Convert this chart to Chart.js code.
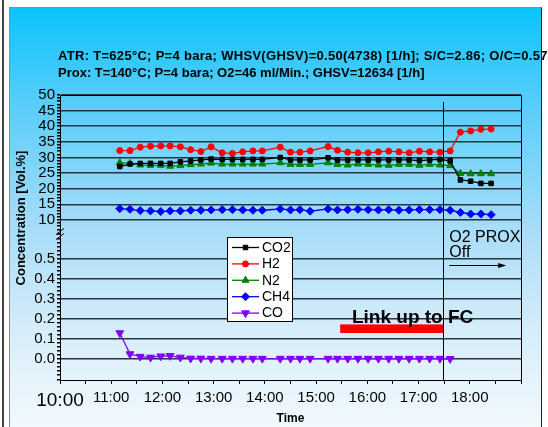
<!DOCTYPE html>
<html>
<head>
<meta charset="utf-8">
<script src="https://cdn.jsdelivr.net/npm/chart.js@4.4.1/dist/chart.umd.min.js"></script>
<style>
  body { margin: 0; background: #fff; }
  #wrap { width: 548px; height: 427px; }
</style>
</head>
<body>
<div id="wrap"><canvas id="gasChart" width="548" height="427"></canvas></div>
<script>
// sample times (hh:mm) and gas concentrations read from the run
const times = ['11:10', '11:22', '11:34', '11:46', '11:58', '12:09', '12:21', '12:33', '12:45', '12:57',
  '13:10', '13:22', '13:34', '13:46', '13:57', '14:18', '14:30', '14:41', '14:53', '15:14',
  '15:25', '15:37', '15:49', '16:01', '16:13', '16:25', '16:37', '16:49', '17:01', '17:13',
  '17:25', '17:37', '17:49', '18:01', '18:13', '18:25'];

const co2 = [27.1, 27.9, 28.1, 28.1, 28.1, 28.1, 28.6, 28.9, 29.2, 29.5, 29.4, 29.4, 29.4, 29.4, 29.4,
  30.0, 29.2, 29.2, 29.2, 29.9, 29.2, 29.2, 29.2, 29.2, 29.2, 29.2, 29.2, 29.2, 29.0, 29.2,
  29.4, 28.9, 22.8, 22.4, 21.7, 21.7];
const h2 = [32.2, 32.2, 33.3, 33.6, 33.7, 33.7, 33.4, 32.5, 31.9, 33.4, 31.5, 31.3, 31.8, 32.1, 32.1,
  33.3, 31.7, 31.7, 32.1, 33.5, 32.3, 31.7, 31.5, 31.5, 31.8, 32.0, 31.8, 31.5, 32.0, 31.8,
  31.7, 32.1, 38.1, 38.5, 39.0, 39.1];
const n2 = [28.3, 28.1, 27.6, 27.5, 27.5, 27.2, 27.4, 27.7, 27.9, 28.2, 27.9, 27.9, 27.9, 27.9, 27.9,
  28.3, 27.8, 27.8, 27.8, 28.3, 27.8, 27.6, 27.9, 27.8, 27.6, 27.5, 27.8, 27.8, 27.5, 27.8,
  27.6, 27.4, 24.9, 24.8, 24.8, 24.8];
const ch4 = [13.6, 13.4, 13.0, 12.9, 12.7, 12.9, 12.9, 13.1, 13.1, 13.2, 13.3, 13.3, 13.2, 13.1, 13.1,
  13.5, 13.2, 13.3, 12.8, 13.5, 13.2, 13.3, 13.4, 13.3, 13.2, 13.3, 13.1, 13.2, 13.3, 13.3,
  13.3, 13.1, 12.4, 11.9, 11.9, 11.7];
// CO only logged up to 17:37
const co = [0.13, 0.025, 0.012, 0.008, 0.014, 0.016, 0.008, 0.003, 0.003, 0.002, 0.002, 0.002, 0.002,
  0.002, 0.002, 0.002, 0.002, 0.002, 0.002, 0.002, 0.002, 0.002, 0.002, 0.002, 0.002, 0.002,
  0.002, 0.002, 0.002, 0.002, 0.002, 0.001];

const headerLines = [
  'ATR: T=625°C; P=4 bara; WHSV(GHSV)=0.50(4738) [1/h]; S/C=2.86; O/C=0.57',
  'Prox: T=140°C; P=4 bara; O2=46 ml/Min.; GHSV=12634 [1/h]'
];

// annotations, in data units (hours / lower axis values)
const proxOffAt = 17.48;
const linkBar = { from: 15.47, to: 17.48, low: 0.13, high: 0.173 };

const FONT = 'Liberation Sans, Arial, Helvetica, sans-serif';

function toHours(t) {
  const p = t.split(':');
  return Number(p[0]) + Number(p[1]) / 60;
}

function series(values) {
  return values.map((v, i) => ({ x: toHours(times[i]), y: v }));
}

function isStep(v, step) {
  const r = v / step;
  return Math.abs(r - Math.round(r)) < 1e-6;
}

// white page, grey rule on the left, blue gradient panel
const panelPlugin = {
  id: 'panel',
  beforeDraw(chart) {
    const { ctx, width, height } = chart;
    ctx.save();
    ctx.fillStyle = '#fff';
    ctx.fillRect(0, 0, width, height);
    const g = ctx.createLinearGradient(0, 7, 0, height);
    g.addColorStop(0, '#08c4fd');
    g.addColorStop(0.21, '#52ccfa');
    g.addColorStop(0.53, '#a8ddf8');
    g.addColorStop(0.77, '#d6edfa');
    g.addColorStop(1, '#f2f9fd');
    ctx.fillStyle = g;
    ctx.fillRect(9, 7, 533, height - 7);
    ctx.lineWidth = 1;
    ctx.strokeStyle = '#8c8c8c';
    ctx.beginPath();
    ctx.moveTo(9.5, height);
    ctx.lineTo(9.5, 7.5);
    ctx.lineTo(541.5, 7.5);
    ctx.stroke();
    ctx.strokeStyle = '#222';
    ctx.beginPath();
    ctx.moveTo(541.5, 7.5);
    ctx.lineTo(541.5, height);
    ctx.stroke();
    ctx.fillStyle = '#444';
    ctx.fillRect(2, 0, 2, height);
    ctx.restore();
  }
};

// header, frame, break marks, notes and the boxed legend
const decorPlugin = {
  id: 'decor',
  afterDraw(chart) {
    const { ctx, chartArea: a, scales } = chart;
    const x = scales.x, top = scales.yTop, low = scales.yLow;
    ctx.save();

    // header text
    ctx.fillStyle = '#000';
    ctx.font = 'bold 13px ' + FONT;
    ctx.textAlign = 'left';
    ctx.textBaseline = 'alphabetic';
    ctx.letterSpacing = '0.3px';
    ctx.fillText(headerLines[0], 58, 60);
    ctx.letterSpacing = '0px';
    ctx.fillText(headerLines[1], 58, 77);

    // y title
    ctx.save();
    ctx.translate(21, 218);
    ctx.rotate(-Math.PI / 2);
    ctx.textAlign = 'center';
    ctx.textBaseline = 'middle';
    ctx.font = 'bold 13px ' + FONT;
    ctx.fillText('Concentration [Vol.%]', 0, 0);
    ctx.restore();

    // frame top and right
    ctx.strokeStyle = '#000';
    ctx.lineWidth = 1;
    ctx.beginPath();
    ctx.moveTo(a.left, a.top + 0.5);
    ctx.lineTo(a.right + 0.5, a.top + 0.5);
    ctx.lineTo(a.right + 0.5, a.bottom);
    ctx.stroke();

    // axis break
    const b = top.bottom;
    ctx.lineWidth = 1;
    [-2.5, 2.5].forEach(off => {
      ctx.beginPath();
      ctx.moveTo(a.left - 4, b + off + 3);
      ctx.lineTo(a.left + 4, b + off - 3);
      ctx.stroke();
    });

    // O2 PROX off marker line
    const vx = Math.round(x.getPixelForValue(proxOffAt)) + 0.5;
    ctx.beginPath();
    ctx.moveTo(vx, top.getPixelForValue(47.75));
    ctx.lineTo(vx, a.bottom);
    ctx.stroke();

    // link-up bar and label
    const bx0 = x.getPixelForValue(linkBar.from), bx1 = x.getPixelForValue(linkBar.to);
    const by0 = low.getPixelForValue(linkBar.high), by1 = low.getPixelForValue(linkBar.low);
    ctx.fillStyle = '#ff0000';
    ctx.fillRect(bx0, by0, bx1 - bx0, by1 - by0);
    ctx.fillStyle = '#000';
    ctx.font = 'bold 19px ' + FONT;
    ctx.fillText('Link up to FC', x.getPixelForValue(15.70), low.getPixelForValue(0.181));

    // O2 PROX Off note with arrow
    ctx.font = '16px ' + FONT;
    ctx.fillText('O2 PROX', x.getPixelForValue(17.6), low.getPixelForValue(0.584));
    ctx.fillText('Off', x.getPixelForValue(17.6), low.getPixelForValue(0.51));
    const ay = Math.round(low.getPixelForValue(0.4715)) + 0.5;
    const ax0 = x.getPixelForValue(17.6), ax1 = x.getPixelForValue(18.71);
    ctx.beginPath();
    ctx.moveTo(ax0, ay);
    ctx.lineTo(ax1 - 6, ay);
    ctx.stroke();
    ctx.beginPath();
    ctx.moveTo(ax1, ay);
    ctx.lineTo(ax1 - 8, ay - 2.5);
    ctx.lineTo(ax1 - 8, ay + 2.5);
    ctx.closePath();
    ctx.fill();

    // legend box
    const lx = a.left + 167, ly = a.top + 142;
    ctx.fillStyle = '#fff';
    ctx.fillRect(lx, ly, 65, 84);
    ctx.strokeStyle = '#000';
    ctx.strokeRect(lx + 0.5, ly + 0.5, 65, 84);
    ctx.font = '14px ' + FONT;
    ctx.textBaseline = 'middle';
    chart.data.datasets.forEach((ds, i) => {
      const yy = ly + 10.5 + i * 16.4;
      ctx.strokeStyle = ds.borderColor;
      ctx.lineWidth = 1.3;
      ctx.beginPath();
      ctx.moveTo(lx + 5, yy);
      ctx.lineTo(lx + 32, yy);
      ctx.stroke();
      ctx.fillStyle = ds.backgroundColor;
      ctx.strokeStyle = ds.borderColor;
      ctx.lineWidth = 1;
      Chart.helpers.drawPoint(ctx, {
        pointStyle: ds.pointStyle,
        rotation: ds.pointRotation || 0,
        radius: ds.pointRadius,
        borderWidth: 1
      }, lx + 18.5, yy);
      ctx.fillStyle = '#000';
      ctx.fillText(ds.label, lx + 35, yy + 0.5);
    });

    ctx.restore();
  }
};

function lineSet(label, values, color, style, radius, axis, rotation) {
  return {
    label: label,
    data: series(values),
    yAxisID: axis,
    borderColor: color,
    backgroundColor: color,
    borderWidth: 1.3,
    pointStyle: style,
    pointRadius: radius,
    pointRotation: rotation || 0,
    pointBorderWidth: 1,
    tension: 0
  };
}

const tickFont = { family: FONT, size: 15 };

new Chart(document.getElementById('gasChart'), {
  type: 'line',
  data: {
    datasets: [
      lineSet('CO2', co2, '#000000', 'rect', 3.2, 'yTop'),
      lineSet('H2', h2, '#ff0000', 'circle', 3, 'yTop'),
      lineSet('N2', n2, '#008000', 'triangle', 4, 'yTop'),
      lineSet('CH4', ch4, '#0000ff', 'rectRot', 4, 'yTop'),
      lineSet('CO', co, '#8000ff', 'triangle', 4.5, 'yLow', 180)
    ]
  },
  options: {
    responsive: false,
    devicePixelRatio: 1,
    animation: false,
    layout: { padding: { left: 10, top: 95, right: 27, bottom: 0 } },
    plugins: {
      legend: { display: false },
      title: { display: false },
      tooltip: { enabled: false }
    },
    scales: {
      x: {
        type: 'linear',
        min: 10,
        max: 19,
        ticks: {
          stepSize: 0.5,
          autoSkip: false,
          maxRotation: 0,
          padding: 5,
          color: '#000',
          font: ctx => ({ family: FONT, size: ctx.index === 0 ? 19 : 15 }),
          callback: v => (Number.isInteger(v) && v < 19) ? v + ':00' : ''
        },
        grid: { drawOnChartArea: false, color: '#000', tickLength: 4 },
        border: { color: '#000', width: 1 },
        title: {
          display: true,
          text: 'Time',
          color: '#000',
          font: { family: FONT, size: 12, weight: 'bold' },
          padding: { top: 0, bottom: 1 }
        },
        afterFit: s => { s.height = 47; }
      },
      yLow: {
        type: 'linear',
        position: 'left',
        stack: 'conc',
        stackWeight: 146,
        min: -0.105,
        max: 0.625,
        ticks: {
          stepSize: 0.02,
          autoSkip: false,
          padding: 2,
          color: '#000',
          font: tickFont,
          callback: v => (isStep(v, 0.1) && v > -0.05 && v < 0.55) ? v.toFixed(1) : ''
        },
        grid: {
          color: ctx => (ctx.tick && isStep(ctx.tick.value, 0.1) && ctx.tick.value > -0.05 && ctx.tick.value < 0.55) ? '#26343d' : 'rgba(0,0,0,0)',
          lineWidth: 1.5,
          tickColor: '#000',
          tickLength: 3
        },
        border: { color: '#000', width: 1 },
        afterFit: s => { s.width = 50; }
      },
      yTop: {
        type: 'linear',
        position: 'left',
        stack: 'conc',
        stackWeight: 139,
        min: 5.5,
        max: 50,
        ticks: {
          stepSize: 1,
          autoSkip: false,
          padding: 2,
          color: '#000',
          font: tickFont,
          callback: v => (isStep(v, 5) && v >= 10) ? String(v) : ''
        },
        grid: {
          color: ctx => (ctx.tick && isStep(ctx.tick.value, 5) && ctx.tick.value >= 10) ? '#26343d' : 'rgba(0,0,0,0)',
          lineWidth: 1.5,
          tickColor: '#000',
          tickLength: 3
        },
        border: { color: '#000', width: 1 },
        afterFit: s => { s.width = 50; }
      }
    }
  },
  plugins: [panelPlugin, decorPlugin]
});
</script>
</body>
</html>
